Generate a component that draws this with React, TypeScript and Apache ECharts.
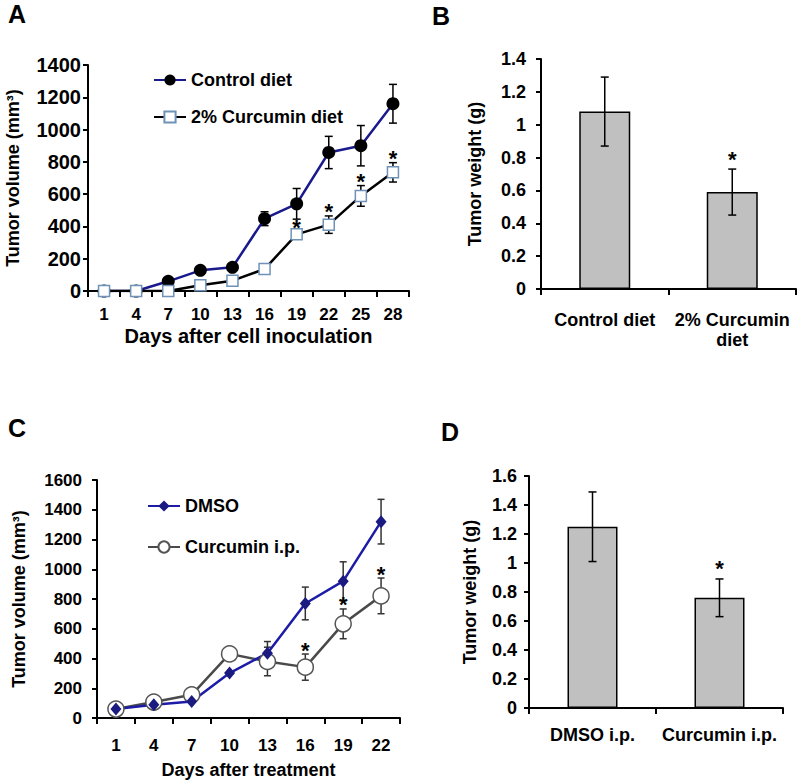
import React, { useEffect, useRef } from "react";
import * as echarts from "echarts";

// ---- Panel A data ----
const daysA = ["1", "4", "7", "10", "13", "16", "19", "22", "25", "28"];
const controlDiet = [0, 0, 60, 128, 147, 448, 540, 858, 900, 1160];
const controlDietErr = [0, 0, 0, 0, 0, 43, 95, 100, 125, 120];
const curcuminDiet = [0, 0, 0, 35, 64, 136, 351, 411, 589, 735];
const curcuminDietErr = [0, 0, 0, 0, 0, 0, 20, 54, 64, 60];
const sigA = [false, false, false, false, false, false, true, true, true, true];

// ---- Panel B data ----
const groupsB = ["Control diet", "2% Curcumin\ndiet"];
const weightB = [1.08, 0.59];
const weightBErr = [0.21, 0.14];
const sigB = [false, true];

// ---- Panel C data ----
const daysC = ["1", "4", "7", "10", "13", "16", "19", "22"];
const dmso = [60, 89, 111, 302, 436, 770, 920, 1320];
const dmsoErr = [0, 0, 0, 0, 78, 110, 130, 150];
const curcuminIp = [60, 107, 156, 431, 380, 342, 633, 821];
const curcuminIpErr = [0, 0, 0, 0, 96, 88, 100, 120];
const sigC = [false, false, false, false, false, true, true, true];

// ---- Panel D data ----
const groupsD = ["DMSO i.p.", "Curcumin i.p."];
const weightD = [1.25, 0.76];
const weightDErr = [0.24, 0.13];
const sigD = [false, true];

const FONT = "Liberation Sans, Arial, Helvetica, sans-serif";

function errData(vals: number[], errs: number[]) {
  return vals.map((v, i) => [i, v, errs[i]]);
}
function starData(vals: number[], errs: number[], sig: boolean[]) {
  return vals.map((v, i) => [i, v + errs[i]]).filter((_, i) => sig[i]);
}

function errRenderer(capHalf: number, color: string, width: number) {
  return (params: any, api: any) => {
    const x = api.value(0);
    const y = api.value(1);
    const e = api.value(2);
    if (!e) return { type: "group", children: [] };
    const top = api.coord([x, y + e]);
    const bot = api.coord([x, y - e]);
    const style = { stroke: color, lineWidth: width };
    return {
      type: "group",
      children: [
        { type: "line", shape: { x1: top[0], y1: top[1], x2: bot[0], y2: bot[1] }, style },
        { type: "line", shape: { x1: top[0] - capHalf, y1: top[1], x2: top[0] + capHalf, y2: top[1] }, style },
        { type: "line", shape: { x1: bot[0] - capHalf, y1: bot[1], x2: bot[0] + capHalf, y2: bot[1] }, style },
      ],
    };
  };
}

function starRenderer(offset: number) {
  return (params: any, api: any) => {
    const p = api.coord([api.value(0), api.value(1)]);
    return {
      type: "text",
      x: p[0],
      y: p[1] - offset,
      style: {
        text: "*",
        fill: "#000",
        fontSize: 22,
        fontWeight: "bold",
        fontFamily: FONT,
        align: "center",
        verticalAlign: "middle",
      },
    };
  };
}

const plain = (v: number) => String(v);
const axisLineStyle = { show: true, lineStyle: { color: "#000", width: 2 } };
const tickStyle = { show: true, length: 6, lineStyle: { color: "#000", width: 2 } };
const labelStyle = (size: number, margin: number) => ({
  color: "#000",
  fontSize: size,
  fontWeight: "bold",
  fontFamily: FONT,
  margin,
});
const nameStyle = { color: "#000", fontSize: 18, fontWeight: "bold", fontFamily: FONT };

export default function App() {
  const ref = useRef<HTMLDivElement>(null);
  useEffect(() => {
    if (!ref.current) return;
    const chart = echarts.init(ref.current, undefined, { renderer: "svg" });
    const option: any = {
      animation: false,
      backgroundColor: "#fff",
      textStyle: { fontFamily: FONT },
      graphic: [
        { type: "text", left: 8, top: 1, style: { text: "A", fontSize: 25, fontWeight: "bold", fontFamily: FONT, fill: "#000" } },
        { type: "text", left: 432, top: 3, style: { text: "B", fontSize: 25, fontWeight: "bold", fontFamily: FONT, fill: "#000" } },
        { type: "text", left: 8, top: 415, style: { text: "C", fontSize: 25, fontWeight: "bold", fontFamily: FONT, fill: "#000" } },
        { type: "text", left: 441, top: 419, style: { text: "D", fontSize: 25, fontWeight: "bold", fontFamily: FONT, fill: "#000" } },
      ],
      legend: [
        {
          orient: "vertical",
          left: 148,
          top: 66,
          itemWidth: 32,
          itemHeight: 14,
          itemGap: 19,
          textStyle: { ...nameStyle, fontSize: 18 },
          data: ["Control diet", "2% Curcumin diet"],
        },
        {
          orient: "vertical",
          left: 142,
          top: 492,
          itemWidth: 32,
          itemHeight: 14,
          itemGap: 23,
          textStyle: { ...nameStyle, fontSize: 18 },
          data: ["DMSO", "Curcumin i.p."],
        },
      ],
      grid: [
        { left: 88, top: 65, width: 321, height: 226 },
        { left: 541, top: 59, width: 255, height: 230 },
        { left: 97, top: 480, width: 303, height: 238 },
        { left: 529, top: 476, width: 254, height: 232 },
      ],
      xAxis: [
        {
          gridIndex: 0,
          type: "category",
          data: daysA,
          boundaryGap: true,
          axisLine: axisLineStyle,
          axisTick: tickStyle,
          axisLabel: { ...labelStyle(17, 15), interval: 0 },
          name: "Days after cell inoculation",
          nameLocation: "middle",
          nameGap: 35,
          nameTextStyle: { ...nameStyle, fontSize: 20 },
        },
        {
          gridIndex: 1,
          type: "category",
          data: groupsB,
          axisLine: axisLineStyle,
          axisTick: tickStyle,
          axisLabel: { ...labelStyle(18, 21), lineHeight: 20, interval: 0 },
        },
        {
          gridIndex: 2,
          type: "category",
          data: daysC,
          axisLine: axisLineStyle,
          axisTick: tickStyle,
          axisLabel: { ...labelStyle(17, 19), interval: 0 },
          name: "Days after treatment",
          nameLocation: "middle",
          nameGap: 43,
          nameTextStyle: nameStyle,
        },
        {
          gridIndex: 3,
          type: "category",
          data: groupsD,
          axisLine: axisLineStyle,
          axisTick: tickStyle,
          axisLabel: { ...labelStyle(18, 18), interval: 0 },
        },
      ],
      yAxis: [
        {
          gridIndex: 0,
          type: "value",
          min: 0,
          max: 1400,
          interval: 200,
          axisLine: axisLineStyle,
          axisTick: { ...tickStyle, length: 5 },
          axisLabel: { ...labelStyle(20, 7), formatter: plain },
          splitLine: { show: false },
          name: "Tumor volume (mm³)",
          nameLocation: "middle",
          nameGap: 66,
          nameTextStyle: nameStyle,
        },
        {
          gridIndex: 1,
          type: "value",
          min: 0,
          max: 1.4,
          interval: 0.2,
          axisLine: axisLineStyle,
          axisTick: { ...tickStyle, length: 5 },
          axisLabel: { ...labelStyle(18, 15), formatter: plain },
          splitLine: { show: false },
          name: "Tumor weight (g)",
          nameLocation: "middle",
          nameGap: 57,
          nameTextStyle: nameStyle,
        },
        {
          gridIndex: 2,
          type: "value",
          min: 0,
          max: 1600,
          interval: 200,
          axisLine: axisLineStyle,
          axisTick: { ...tickStyle, length: 5 },
          axisLabel: { ...labelStyle(17, 15), formatter: plain },
          splitLine: { show: false },
          name: "Tumor volume (mm³)",
          nameLocation: "middle",
          nameGap: 69,
          nameTextStyle: nameStyle,
        },
        {
          gridIndex: 3,
          type: "value",
          min: 0,
          max: 1.6,
          interval: 0.2,
          axisLine: axisLineStyle,
          axisTick: { ...tickStyle, length: 5 },
          axisLabel: { ...labelStyle(18, 12), formatter: plain },
          splitLine: { show: false },
          name: "Tumor weight (g)",
          nameLocation: "middle",
          nameGap: 50,
          nameTextStyle: nameStyle,
        },
      ],
      series: [
        // Panel A
        {
          type: "custom",
          xAxisIndex: 0,
          yAxisIndex: 0,
          z: 1,
          renderItem: errRenderer(4, "#000", 1.5),
          data: errData(controlDiet, controlDietErr),
          encode: { x: 0, y: 1 },
          silent: true,
        },
        {
          type: "custom",
          xAxisIndex: 0,
          yAxisIndex: 0,
          z: 1,
          renderItem: errRenderer(4, "#000", 1.5),
          data: errData(curcuminDiet, curcuminDietErr),
          encode: { x: 0, y: 1 },
          silent: true,
        },
        {
          name: "Control diet",
          type: "line",
          xAxisIndex: 0,
          yAxisIndex: 0,
          z: 3,
          data: controlDiet,
          symbol: "circle",
          symbolSize: 13,
          showAllSymbol: true,
          itemStyle: { color: "#000" },
          lineStyle: { color: "#1a1a8c", width: 2.5 },
        },
        {
          name: "2% Curcumin diet",
          type: "line",
          xAxisIndex: 0,
          yAxisIndex: 0,
          z: 3,
          data: curcuminDiet,
          symbol: "rect",
          symbolSize: 11,
          showAllSymbol: true,
          itemStyle: { color: "#fff", borderColor: "#6f93b8", borderWidth: 1.5 },
          lineStyle: { color: "#000", width: 2.5 },
        },
        {
          type: "custom",
          xAxisIndex: 0,
          yAxisIndex: 0,
          z: 4,
          renderItem: starRenderer(4),
          data: starData(curcuminDiet, curcuminDietErr, sigA),
          encode: { x: 0, y: 1 },
          silent: true,
        },
        // Panel B
        {
          type: "bar",
          xAxisIndex: 1,
          yAxisIndex: 1,
          data: weightB,
          barWidth: 51,
          itemStyle: { color: "#c0c0c0", borderColor: "#000", borderWidth: 1.5 },
        },
        {
          type: "custom",
          xAxisIndex: 1,
          yAxisIndex: 1,
          z: 4,
          renderItem: errRenderer(4, "#000", 1.5),
          data: errData(weightB, weightBErr),
          encode: { x: 0, y: 1 },
          silent: true,
        },
        {
          type: "custom",
          xAxisIndex: 1,
          yAxisIndex: 1,
          z: 4,
          renderItem: starRenderer(10),
          data: starData(weightB, weightBErr, sigB),
          encode: { x: 0, y: 1 },
          silent: true,
        },
        // Panel C
        {
          type: "custom",
          xAxisIndex: 2,
          yAxisIndex: 2,
          z: 1,
          renderItem: errRenderer(3.5, "#333", 1.5),
          data: errData(dmso, dmsoErr),
          encode: { x: 0, y: 1 },
          silent: true,
        },
        {
          type: "custom",
          xAxisIndex: 2,
          yAxisIndex: 2,
          z: 1,
          renderItem: errRenderer(3.5, "#333", 1.5),
          data: errData(curcuminIp, curcuminIpErr),
          encode: { x: 0, y: 1 },
          silent: true,
        },
        {
          name: "Curcumin i.p.",
          type: "line",
          xAxisIndex: 2,
          yAxisIndex: 2,
          z: 3,
          data: curcuminIp,
          symbol: "circle",
          symbolSize: 16,
          showAllSymbol: true,
          itemStyle: { color: "#fff", borderColor: "#555", borderWidth: 1.5 },
          lineStyle: { color: "#4a4a4a", width: 2.5 },
        },
        {
          name: "DMSO",
          type: "line",
          xAxisIndex: 2,
          yAxisIndex: 2,
          z: 3,
          data: dmso,
          symbol: "diamond",
          symbolSize: [11, 13],
          showAllSymbol: true,
          itemStyle: { color: "#1a1a80" },
          lineStyle: { color: "#1c1ca6", width: 2.5 },
        },
        {
          type: "custom",
          xAxisIndex: 2,
          yAxisIndex: 2,
          z: 4,
          renderItem: starRenderer(4),
          data: starData(curcuminIp, curcuminIpErr, sigC),
          encode: { x: 0, y: 1 },
          silent: true,
        },
        // Panel D
        {
          type: "bar",
          xAxisIndex: 3,
          yAxisIndex: 3,
          data: weightD,
          barWidth: 50,
          itemStyle: { color: "#c0c0c0", borderColor: "#000", borderWidth: 1.5 },
        },
        {
          type: "custom",
          xAxisIndex: 3,
          yAxisIndex: 3,
          z: 4,
          renderItem: errRenderer(4, "#000", 1.5),
          data: errData(weightD, weightDErr),
          encode: { x: 0, y: 1 },
          silent: true,
        },
        {
          type: "custom",
          xAxisIndex: 3,
          yAxisIndex: 3,
          z: 4,
          renderItem: starRenderer(10),
          data: starData(weightD, weightDErr, sigD),
          encode: { x: 0, y: 1 },
          silent: true,
        },
      ],
    };
    chart.setOption(option);
    return () => chart.dispose();
  }, []);
  return (
    <div
      ref={ref}
      style={{ position: "absolute", left: 0, top: 0, width: 800, height: 784, background: "#fff" }}
    />
  );
}
